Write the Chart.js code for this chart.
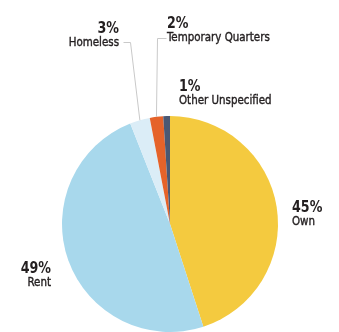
<!DOCTYPE html>
<html>
<head>
<meta charset="utf-8">
<script src="https://cdn.jsdelivr.net/npm/chart.js@4"></script>
<style>
    html, body { margin: 0; padding: 0; background: #fff; overflow: hidden; }
</style>
</head>
<body>
<canvas id="housing-chart" width="339" height="332"></canvas>
<script>
var categories = ["Own", "Rent", "Homeless", "Temporary Quarters", "Other Unspecified"];
var shares = [45, 49, 3, 2, 1];
var sliceColors = ["#f4ca3f", "#a8d8ec", "#dbedf7", "#e5632a", "#4b5873"];

// where each label sits, measured from the pie centre;
// elbow = where the leader line bends before running to the slice
var labelSpots = [
    { dx: 122, dy: -12, align: "left" },
    { dx: -119, dy: 49, align: "right" },
    { dx: -51, dy: -191, align: "right", elbow: [[-47, -182], [-40, -182]] },
    { dx: -3, dy: -196, align: "left", elbow: [[-4, -186], [-13, -186]] },
    { dx: 9, dy: -133, align: "left" }
];

var FONT = "'DejaVu Sans Condensed', 'Roboto', sans-serif";
var SQUEEZE = 0.88; // narrow the condensed face a bit further

function squeezedText(ctx, text, x, y, weight) {
    ctx.save();
    ctx.translate(x, y);
    ctx.scale(SQUEEZE, 1);
    ctx.fillText(text, 0, 0);
    if (weight) {
        // thicken the regular face toward a medium weight
        ctx.lineWidth = weight;
        ctx.strokeText(text, 0, 0);
    }
    ctx.restore();
}

var sliceLabels = {
    id: "sliceLabels",
    afterDraw: function (chart) {
        var ctx = chart.ctx;
        var arcs = chart.getDatasetMeta(0).data;
        ctx.save();
        arcs.forEach(function (arc, i) {
            var p = arc.getProps(["x", "y", "startAngle", "endAngle", "outerRadius"], true);
            var spot = labelSpots[i];
            var tx = p.x + spot.dx;
            var ty = p.y + spot.dy;

            if (spot.elbow) {
                var mid = (p.startAngle + p.endAngle) / 2;
                ctx.beginPath();
                ctx.strokeStyle = "#c9c9c9";
                ctx.lineWidth = 1;
                ctx.moveTo(p.x + spot.elbow[0][0] + 0.5, p.y + spot.elbow[0][1] + 0.5);
                ctx.lineTo(p.x + spot.elbow[1][0] + 0.5, p.y + spot.elbow[1][1] + 0.5);
                ctx.lineTo(p.x + Math.cos(mid) * p.outerRadius, p.y + Math.sin(mid) * p.outerRadius);
                ctx.stroke();
            }

            ctx.fillStyle = "#231f20";
            ctx.strokeStyle = "#231f20";
            ctx.textAlign = spot.align;
            ctx.textBaseline = "alphabetic";
            ctx.font = "bold 16px " + FONT;
            squeezedText(ctx, shares[i] + "%", tx, ty, 0);
            ctx.font = "13px " + FONT;
            squeezedText(ctx, categories[i], tx, ty + 13, 0.4);
        });
        ctx.restore();
    }
};

function init() {
    var data = {
        labels: categories,
        datasets: [
            {
                data: shares,
                backgroundColor: sliceColors,
                borderWidth: 0
            }
        ]
    };

    var config = {
        type: "pie",
        data: data,
        options: {
            responsive: false,
            animation: false,
            rotation: 0,
            layout: {
                padding: { left: 62, right: 61, top: 116, bottom: 0 }
            },
            plugins: {
                legend: { display: false },
                tooltip: { enabled: false }
            }
        },
        plugins: [sliceLabels]
    };
    var housingChart = new Chart(document.getElementById("housing-chart"), config);
}

init();
</script>
</body>
</html>
